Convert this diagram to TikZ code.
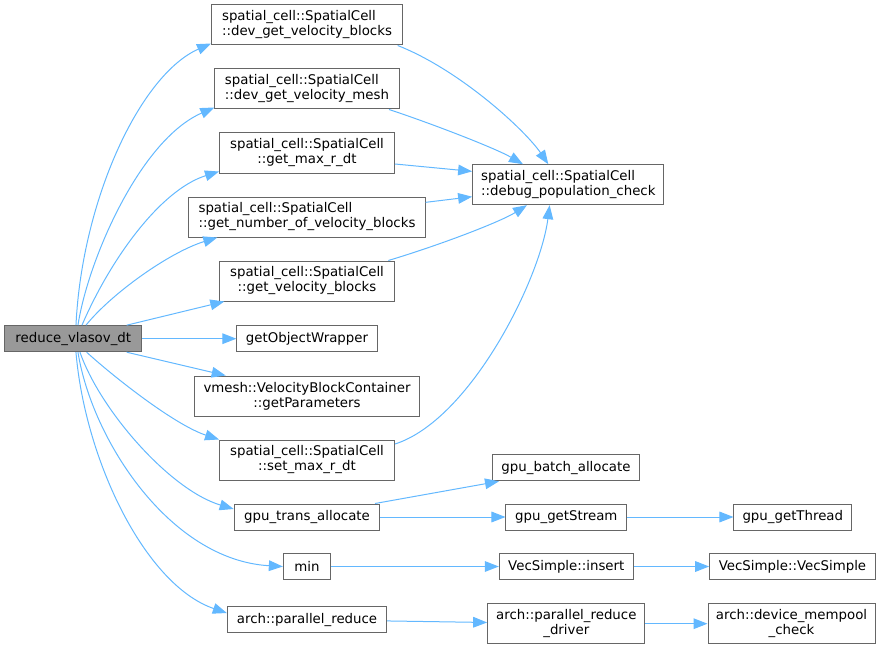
\documentclass[tikz,border=0pt]{standalone}
\usepackage{fontspec}
\setmainfont{DejaVu Sans}
\usepackage{xcolor}
\usepackage{tikz}
\usetikzlibrary{arrows.meta}

\definecolor{edgeblue}{HTML}{63B8FF}
\definecolor{boxgray}{HTML}{666666}
\definecolor{rootgray}{HTML}{999999}

\begin{document}
\begin{tikzpicture}[
    x=0.75pt, y=-0.75pt,
    fn/.style={rectangle, draw=boxgray, line width=0.75pt, fill=white, inner sep=0pt, minimum height=19.5pt, font=\fontsize{10}{11.25}\selectfont, align=center},
    fntwo/.style={fn, minimum height=30pt},
    root/.style={fn, fill=rootgray},
    arrow/.style={draw=edgeblue, line width=0.75pt, -{Triangle[length=10.5pt,width=8pt]}}
]
\useasboundingbox (0,0) rectangle (888,649);

\node[root, minimum width=102.5pt] (reduce) at (73.3,338.7) {reduce\_vlasov\_dt};

\node[fntwo, align=left, minimum width=143.25pt] (devblocks) at (307,25) {spatial\_cell::SpatialCell\\::dev\_get\_velocity\_blocks};
\node[fntwo, align=left, minimum width=138.25pt] (devmesh) at (307,89) {spatial\_cell::SpatialCell\\::dev\_get\_velocity\_mesh};
\node[fntwo, minimum width=131.25pt] (maxrdt) at (307,153) {spatial\_cell::SpatialCell\\::get\_max\_r\_dt};
\node[fntwo, align=left, minimum width=177.25pt] (numblocks) at (307,217) {spatial\_cell::SpatialCell\\::get\_number\_of\_velocity\_blocks};
\node[fntwo, minimum width=131.25pt] (velblocks) at (307,281) {spatial\_cell::SpatialCell\\::get\_velocity\_blocks};
\node[fn, minimum width=105.25pt] (wrapper) at (307,338.7) {getObjectWrapper};
\node[fntwo, minimum width=169.25pt] (params) at (307,396) {vmesh::VelocityBlockContainer\\::getParameters};
\node[fntwo, minimum width=131.25pt] (setmaxrdt) at (307,460) {spatial\_cell::SpatialCell\\::set\_max\_r\_dt};
\node[fn, minimum width=109.25pt] (transalloc) at (307,517) {gpu\_trans\_allocate};
\node[fn, minimum width=35.5pt] (min) at (307,566.5) {min};
\node[fn, minimum width=119.5pt] (parreduce) at (307,619.7) {arch::parallel\_reduce};

\node[fntwo, align=left, minimum width=143.5pt] (debugpop) at (568.3,184.7) {spatial\_cell::SpatialCell\\::debug\_population\_check};
\node[fn, minimum width=109.75pt] (batchalloc) at (566,467.8) {gpu\_batch\_allocate};
\node[fn, minimum width=90.5pt] (getstream) at (566.3,517) {gpu\_getStream};
\node[fn, minimum width=100.5pt] (insert) at (566.3,566.5) {VecSimple::insert};
\node[fntwo, minimum width=118pt] (driver) at (566.3,623.7) {arch::parallel\_reduce\\\_driver};

\node[fn, minimum width=88.25pt] (getthread) at (792.8,517) {gpu\_getThread};
\node[fn, minimum width=124.25pt] (vecsimple) at (792.5,566.5) {VecSimple::VecSimple};
\node[fntwo, minimum width=125.25pt] (mempool) at (791.5,623.7) {arch::device\_mempool\\\_check};

\draw[arrow] ([xshift=2pt]reduce.north) .. controls (82,200) and (140,75) .. ([yshift=1.5pt]devblocks.south west);
\draw[arrow] ([xshift=3.5pt]reduce.north) .. controls (88,260) and (140,140) .. ([yshift=1.5pt]devmesh.south west);
\draw[arrow] ([xshift=6.5pt]reduce.north) .. controls (110,260) and (160,190) .. ([yshift=1.5pt]maxrdt.south west);
\draw[arrow] ([xshift=9.5pt]reduce.north) .. controls (112,293) and (170,252) .. ([xshift=21.75pt]numblocks.south west);
\draw[arrow] ([xshift=40pt]reduce.north) -- ([xshift=4pt]velblocks.south west);
\draw[arrow] (reduce) -- (wrapper);
\draw[arrow] ([xshift=40pt]reduce.south) -- ([xshift=24pt]params.north west);
\draw[arrow] ([xshift=10pt]reduce.south) .. controls (115,378) and (175,425) .. (setmaxrdt.north west);
\draw[arrow] ([xshift=5pt]reduce.south) .. controls (100,410) and (170,490) .. ([yshift=6pt]transalloc.west);
\draw[arrow] ([xshift=3.5pt]reduce.south) .. controls (92,440) and (170,560) .. (min.west);
\draw[arrow] ([xshift=2pt]reduce.south) .. controls (85,460) and (145,585) .. ([yshift=5pt]parreduce.west);

\draw[arrow] ([xshift=-4pt]devblocks.south east) .. controls (460,70) and (525,130) .. ([xshift=-15pt]debugpop.north);
\draw[arrow] ([xshift=-8pt]devmesh.south east) .. controls (430,123) and (495,148) .. ([xshift=-34pt]debugpop.north);
\draw[arrow] ([yshift=-8.25pt]maxrdt.east) -- ([yshift=10pt]debugpop.west);
\draw[arrow] ([yshift=11pt]numblocks.east) -- ([yshift=-9pt]debugpop.west);
\draw[arrow] ([xshift=-5pt]velblocks.north east) .. controls (440,245) and (500,222) .. ([xshift=-31pt]debugpop.south);
\draw[arrow] ([yshift=12pt]setmaxrdt.east) .. controls (470,420) and (540,280) .. ([xshift=-14pt]debugpop.south);

\draw[arrow] ([xshift=-4pt]transalloc.north east) -- ([xshift=5pt]batchalloc.south west);
\draw[arrow] (transalloc) -- (getstream);
\draw[arrow] (getstream) -- (getthread);
\draw[arrow] (min) -- (insert);
\draw[arrow] (insert) -- (vecsimple);
\draw[arrow] (parreduce) -- (driver);
\draw[arrow] (driver) -- (mempool);

\end{tikzpicture}
\end{document}
